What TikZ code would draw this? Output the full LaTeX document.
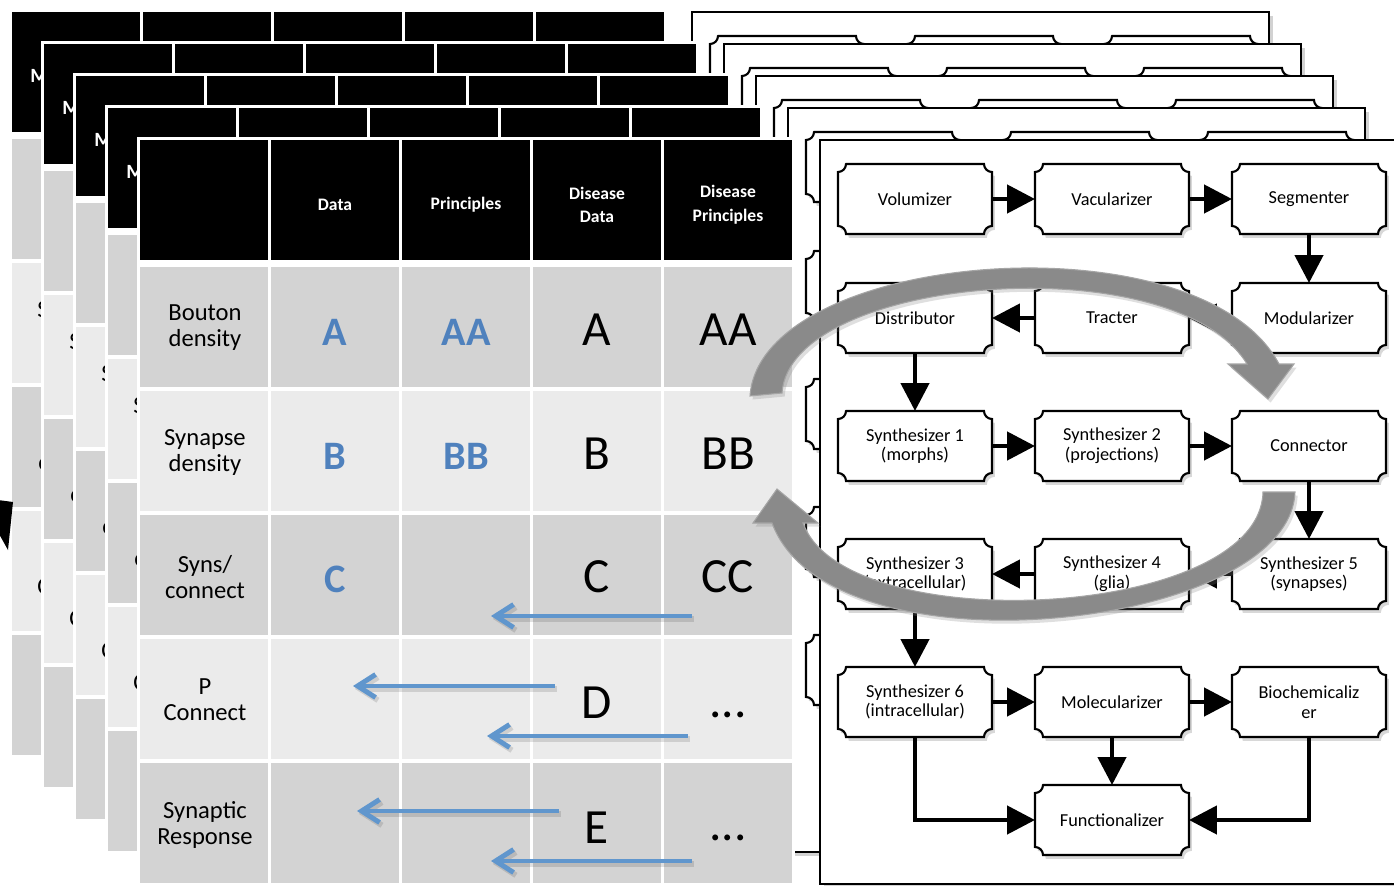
\documentclass[tikz,border=0pt]{standalone}
\usepackage{fontspec}
\setmainfont{Carlito}
\usetikzlibrary{arrows.meta,shadows,calc}

\definecolor{cellDark}{RGB}{211,211,211}
\definecolor{cellLight}{RGB}{235,235,235}
\definecolor{letterBlue}{RGB}{79,129,189}
\definecolor{arrowBlue}{RGB}{96,150,205}
\definecolor{arcGray}{RGB}{138,138,138}
\definecolor{arcEdge}{RGB}{165,165,165}

\tikzset{
  flowbox/.style={minimum width=3.08cm, minimum height=1.4cm, inner sep=0pt, outer sep=0pt,
    align=center, font=\fontsize{10.4}{11.2}\selectfont},
  boxline/.style={draw=black, line width=1.2pt, fill=white,
    drop shadow={shadow xshift=1.6pt, shadow yshift=-2.2pt, opacity=0.3}},
  flowarrow/.style={line width=2.6pt, -{Triangle[length=0.56cm,width=0.56cm]}},
  framebox/.style={draw=black, line width=1.1pt, fill=white,
    drop shadow={shadow xshift=2pt, shadow yshift=-2.5pt, opacity=0.35}},
  headtext/.style={text=white, font=\fontsize{10}{13.5}\selectfont\bfseries, align=center},
  titletext/.style={text=white, font=\fontsize{11.5}{13}\selectfont\bfseries, anchor=west, inner sep=0pt},
  rowtext/.style={font=\fontsize{14}{14.8}\selectfont, align=center},
  rowletter/.style={font=\fontsize{14}{14.8}\selectfont, anchor=base west, inner sep=0pt},
  bigblue/.style={text=letterBlue, font=\fontsize{23}{23}\selectfont\bfseries, anchor=base},
  bigblack/.style={font=\fontsize{28}{28}\selectfont, anchor=base},
  bluearrow/.style={draw=arrowBlue, line width=2.8pt, -{Straight Barb[length=0.36cm,width=0.46cm]}},
  blueshade/.style={draw=black, opacity=0.12, line width=3.2pt,
    -{Straight Barb[length=0.36cm,width=0.46cm]}, transform canvas={shift={(1pt,-1.6pt)}}},
  bigarc/.style={fill=arcGray, draw=arcEdge, line width=0.6pt,
    drop shadow={shadow xshift=1.5pt, shadow yshift=-2pt, opacity=0.25}},
}

% labels are printed on the top sheet only; sheets underneath keep blank boxes
\newcommand\flowshow[1]{#1}
\newcommand\flowhide[1]{}
\let\flowtext\flowshow

% plaque-shaped box with concave corners: name, x, y, text
\newcommand\flowplaque[4]{%
  \path[boxline] ({#2-69},{#3-35}) -- ({#2+69},{#3-35})
    arc[start angle=180,end angle=270,radius=0.16cm]
    -- ({#2+77},{#3+27}) arc[start angle=90,end angle=180,radius=0.16cm]
    -- ({#2-69},{#3+35}) arc[start angle=0,end angle=90,radius=0.16cm]
    -- ({#2-77},{#3-27}) arc[start angle=270,end angle=360,radius=0.16cm] -- cycle;
  \node[flowbox] (#1) at (#2,#3) {\flowtext{#4}};%
}

\begin{document}
\begin{tikzpicture}[x=0.02cm, y=-0.02cm]
\useasboundingbox (0,0) rectangle (1394,886);
\fill[white] (0,0) rectangle (1394,886);

\foreach \k in {1,...,5}{
  % ---------- table number \k ----------
  \pgfmathsetmacro\tofs{12+32*(\k-1)}
  \begin{scope}[shift={(\tofs,\tofs)}]
    \fill[white] (-3,-3) rectangle (655,746);
    \foreach \j in {0,...,4}{
      \fill[black] ({131*\j},0) rectangle ({131*\j+128},120);
      \foreach \i in {1,...,5}{
        \pgfmathsetmacro\rowtop{127+124*(\i-1)}
        \ifodd\i \def\cellcol{cellDark}\else \def\cellcol{cellLight}\fi
        \fill[\cellcol] ({131*\j},\rowtop) rectangle ({131*\j+128},\rowtop+120);
      }
    }
    \ifnum\k=5
      \node[headtext] (hdata) at (195,65) {Data};
      \node[headtext] (hprin) at (326,65) {Principles};
      \node[headtext] (hddata) at (457,65) {Disease\\Data};
      \node[headtext] (hdprin) at (588,65) {Disease\\Principles};
      \node[rowtext] (rbouton) at (65,188) {Bouton\\density};
      \node[rowtext] (rsyn) at (65,312) {Synapse\\density};
      \node[rowtext] (rsyns) at (65,437) {Syns/\\connect};
      \node[rowtext] (rpcon) at (65,560) {P\\Connect};
      \node[rowtext] (rresp) at (65,685) {Synaptic\\Response};
      \node[bigblue] (ba) at (195,205) {A};
      \node[bigblue] (baa) at (326,205) {AA};
      \node[bigblack] (ka) at (457,205) {A};
      \node[bigblack] (kaa) at (588,205) {AA};
      \node[bigblue] (bb) at (195,329) {B};
      \node[bigblue] (bbb) at (326,329) {BB};
      \node[bigblack] (kb) at (457,329) {B};
      \node[bigblack] (kbb) at (588,329) {BB};
      \node[bigblue] (bc) at (195,452) {C};
      \node[bigblack] (kc) at (457,452) {C};
      \node[bigblack] (kcc) at (588,452) {CC};
      \node[bigblack] (kd) at (457,578) {D};
      \node[bigblack] (kdots) at (588,577) {...};
      \node[bigblack] (ke) at (457,703) {E};
      \node[bigblack] (kedots) at (588,700) {...};
    \else
      % only the left edge of these sheets stays in view
      \node[titletext] (title\k) at (18,64) {M};
      \node[rowletter] (ls\k) at (25,305) {S};
      \node[rowletter] (lc\k) at (26,458) {c};
      \node[rowletter] (lC\k) at (25,582) {C};
    \fi
  \end{scope}

  % ---------- pipeline sheet number \k ----------
  \ifnum\k=5 \let\flowtext\flowshow \else \let\flowtext\flowhide \fi
  \pgfmathsetmacro\fx{820+32*(\k-5)}
  \pgfmathsetmacro\fy{140+32*(\k-5)}
  \begin{scope}[shift={(\fx,\fy)}]
    \path[framebox] (0,0) rectangle (577,744);
    \flowplaque{vol\k}{95}{59}{Volumizer}
    \flowplaque{vac\k}{292}{59}{Vacularizer}
    \flowplaque{seg\k}{489}{59}{Segmenter}
    \flowplaque{dis\k}{95}{178}{Distributor}
    \flowplaque{tra\k}{292}{178}{Tracter}
    \flowplaque{mod\k}{489}{178}{Modularizer}
    \flowplaque{sa\k}{95}{306}{Synthesizer 1\\(morphs)}
    \flowplaque{sb\k}{292}{306}{Synthesizer 2\\(projections)}
    \flowplaque{con\k}{489}{306}{Connector}
    \flowplaque{sc\k}{95}{434}{Synthesizer 3\\(extracellular)}
    \flowplaque{sd\k}{292}{434}{Synthesizer 4\\(glia)}
    \flowplaque{se\k}{489}{434}{Synthesizer 5\\(synapses)}
    \flowplaque{sf\k}{95}{562}{Synthesizer 6\\(intracellular)}
    \flowplaque{mol\k}{292}{562}{Molecularizer}
    \flowplaque{bio\k}{489}{562}{Biochemicaliz\\er}
    \flowplaque{fun\k}{292}{680}{Functionalizer}
    \draw[flowarrow] (vol\k) -- (vac\k);
    \draw[flowarrow] (vac\k) -- (seg\k);
    \draw[flowarrow] (seg\k) -- (mod\k);
    \draw[flowarrow] (mod\k) -- (tra\k);
    \draw[flowarrow] (tra\k) -- (dis\k);
    \draw[flowarrow] (dis\k) -- (sa\k);
    \draw[flowarrow] (sa\k) -- (sb\k);
    \draw[flowarrow] (sb\k) -- (con\k);
    \draw[flowarrow] (con\k) -- (se\k);
    \draw[flowarrow] (se\k) -- (sd\k);
    \draw[flowarrow] (sd\k) -- (sc\k);
    \draw[flowarrow] (sc\k) -- (sf\k);
    \draw[flowarrow] (sf\k) -- (mol\k);
    \draw[flowarrow] (mol\k) -- (bio\k);
    \draw[flowarrow] (mol\k) -- (fun\k);
    \draw[flowarrow] (sf\k) |- (fun\k);
    \draw[flowarrow] (bio\k) |- (fun\k);
  \end{scope}
}

% blue arrows across the table
\coordinate (bas1) at (692,616); \coordinate (bae1) at (491,616);
\coordinate (bas2) at (555,686); \coordinate (bae2) at (353,686);
\coordinate (bas3) at (688,736); \coordinate (bae3) at (487,736);
\coordinate (bas4) at (559,811); \coordinate (bae4) at (357,811);
\coordinate (bas5) at (692,861); \coordinate (bae5) at (491,861);
\foreach \n in {1,...,5}{
  \draw[blueshade] (bas\n) -- (bae\n);
  \draw[bluearrow] (bas\n) -- (bae\n);
}

% the two large curved cycle arrows
\path[bigarc] (750,396) .. controls (760,250) and (1200,215) .. (1279,364)
  -- (1294,364) -- (1268,399) -- (1228,364) -- (1247,364)
  .. controls (1175,245) and (790,275) .. (782,393) -- cycle;
\path[bigarc] (1295,492) .. controls (1290,630) and (830,680) .. (772,523)
  -- (753,523) -- (777,489) -- (818,523) -- (803,523)
  .. controls (845,640) and (1260,620) .. (1263,492) -- cycle;

% dark fragment at the left border
\fill[black] (-2,500) -- (13,502) -- (8,550) -- (-2,532) -- cycle;
\end{tikzpicture}
\end{document}
